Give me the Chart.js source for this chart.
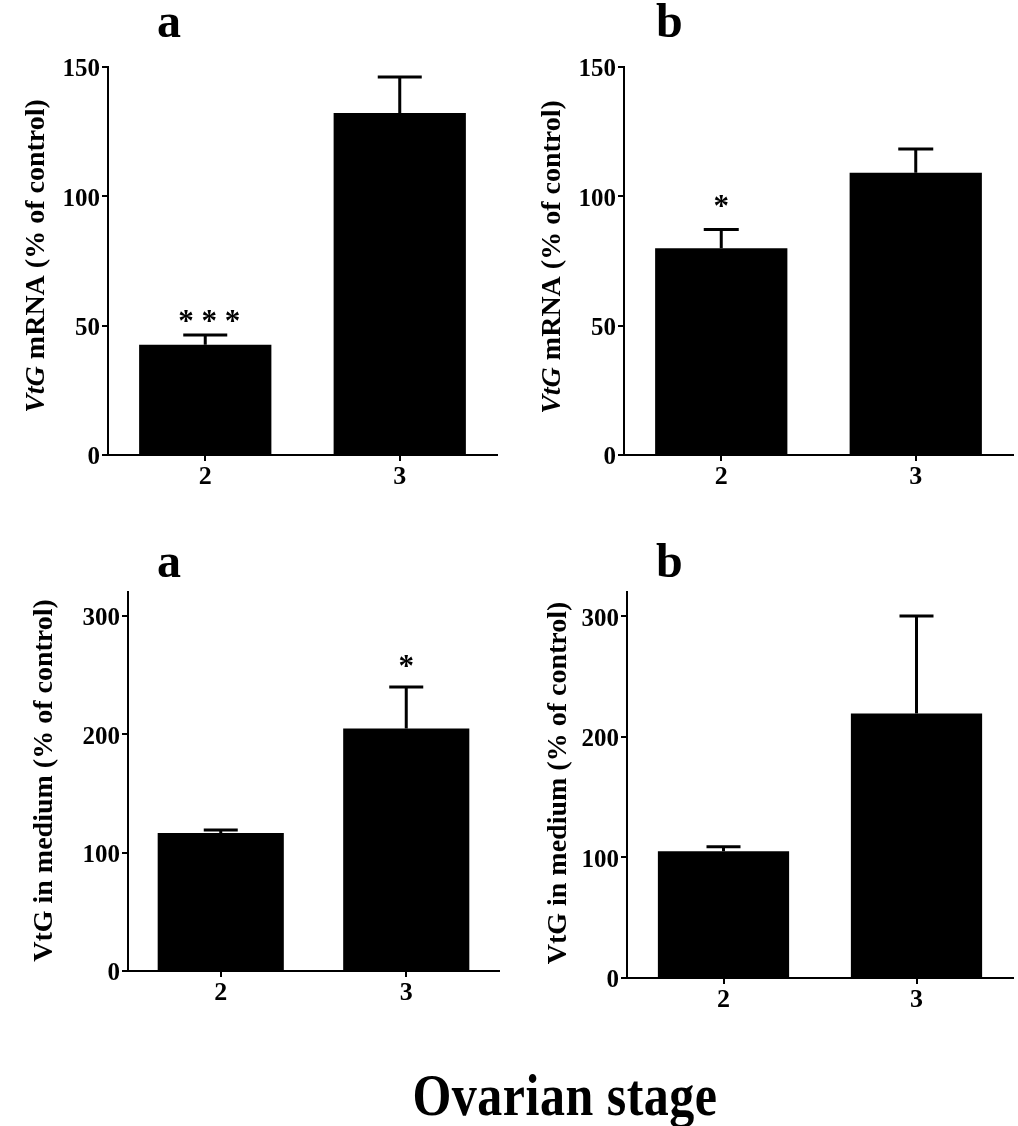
<!DOCTYPE html>
<html>
<head>
<meta charset="utf-8">
<script src="https://cdn.jsdelivr.net/npm/chart.js@4.4.1/dist/chart.umd.min.js"></script>
<style>
  body { margin: 0; background: #fff; }
  #fig { position: relative; width: 1018px; height: 1126px; overflow: hidden; background: #fff; }
  canvas { position: absolute; }
  .lbl { position: absolute; font-family: 'Liberation Serif', 'Times New Roman', serif; font-weight: bold; color: #000; white-space: nowrap; }
  .panel { font-size: 48px; line-height: 48px; }
</style>
</head>
<body>
<div id="fig">
  <canvas id="mrnaA" width="509" height="510" style="left:0;top:0"></canvas>
  <canvas id="mrnaB" width="509" height="510" style="left:509px;top:0"></canvas>
  <canvas id="mediumA" width="509" height="480" style="left:0;top:540px"></canvas>
  <canvas id="mediumB" width="509" height="480" style="left:509px;top:540px"></canvas>
  <div class="lbl panel" style="left:157px;top:-3px">a</div>
  <div class="lbl panel" style="left:656px;top:-3px">b</div>
  <div class="lbl panel" style="left:157px;top:537px">a</div>
  <div class="lbl panel" style="left:656px;top:537px">b</div>
  <div class="lbl" style="left:265px;top:1073px;width:600px;text-align:center;font-size:50px;line-height:50px;letter-spacing:0.5px;transform:scaleY(1.18);transform-origin:50% 42px">Ovarian stage</div>
</div>
<script>
// data
const stages = ["2", "3"];

const mrnaA = [42.6, 132.2];
const mrnaAErr = [3.8, 13.9];
const mrnaASig = ["* * *", ""];

const mrnaB = [79.9, 109.1];
const mrnaBErr = [7.3, 9.2];
const mrnaBSig = ["*", ""];

const mediumA = [116.5, 204.8];
const mediumAErr = [2.6, 35.0];
const mediumASig = ["", "*"];

const mediumB = [105.0, 219.2];
const mediumBErr = [3.9, 80.9];
const mediumBSig = ["", ""];

const mrnaTicks = [0, 50, 100, 150];
const mediumTicks = [0, 100, 200, 300];

const serif = "'Liberation Serif', 'Times New Roman', serif";

// error bars, significance stars and the rotated y title
const panelExtras = {
  id: "panelExtras",
  afterDatasetsDraw(chart, args, opts) {
    const ctx = chart.ctx;
    const y = chart.scales.y;
    const vals = chart.data.datasets[0].data;
    ctx.save();
    ctx.strokeStyle = "#000";
    ctx.fillStyle = "#000";
    ctx.lineWidth = 3;
    chart.getDatasetMeta(0).data.forEach((bar, i) => {
      const top = y.getPixelForValue(vals[i] + opts.errors[i]);
      ctx.beginPath();
      ctx.moveTo(bar.x, bar.y);
      ctx.lineTo(bar.x, top);
      ctx.moveTo(bar.x - opts.cap / 2, top);
      ctx.lineTo(bar.x + opts.cap / 2, top);
      ctx.stroke();
      if (opts.sig[i]) {
        ctx.font = "bold 31px " + serif;
        ctx.textAlign = "center";
        ctx.textBaseline = "alphabetic";
        ctx.fillText(opts.sig[i], bar.x + (opts.sigDx || 0), top - opts.gap);
      }
    });
    ctx.restore();
  },
  afterDraw(chart, args, opts) {
    const ctx = chart.ctx;
    const area = chart.chartArea;
    const cx = area.left - opts.titleDx;
    const cy = (area.top + area.bottom) / 2 + opts.titleDy;
    ctx.save();
    ctx.translate(cx, cy);
    ctx.rotate(-Math.PI / 2);
    ctx.fillStyle = "#000";
    ctx.textBaseline = "middle";
    ctx.textAlign = "left";
    const fonts = opts.title.map(p => (p.italic ? "italic " : "") + "bold 28px " + serif);
    let total = 0;
    const widths = opts.title.map((p, i) => {
      ctx.font = fonts[i];
      const w = ctx.measureText(p.text).width;
      total += w;
      return w;
    });
    let x = -total / 2;
    opts.title.forEach((p, i) => {
      ctx.font = fonts[i];
      ctx.fillText(p.text, x, 0);
      x += widths[i];
    });
    ctx.restore();
  }
};

function makePanel(id, values, errors, sig, tickVals, yMax, box) {
  const axisGrid = { display: true, drawOnChartArea: false, color: "#000", lineWidth: 2, tickLength: 6 };
  new Chart(document.getElementById(id), {
    type: "bar",
    data: {
      labels: stages,
      datasets: [{
        data: values,
        backgroundColor: "#000",
        borderWidth: 0,
        categoryPercentage: 1,
        barPercentage: 0.68
      }]
    },
    options: {
      responsive: false,
      animation: false,
      devicePixelRatio: 1,
      layout: { padding: { top: box.top, right: box.right, left: 0, bottom: 0 } },
      plugins: {
        legend: { display: false },
        tooltip: { enabled: false },
        panelExtras: {
          errors: errors, sig: sig, cap: box.cap, gap: box.gap, sigDx: box.sigDx,
          title: box.title, titleDx: box.titleDx, titleDy: box.titleDy
        }
      },
      scales: {
        x: {
          offset: true,
          grid: Object.assign({}, axisGrid, { offset: false }),
          border: { display: true, color: "#000", width: 2 },
          ticks: { color: "#000", padding: 1, font: { family: serif, size: 26, weight: "bold" } },
          afterFit(s) { s.height = box.xh; }
        },
        y: {
          min: 0,
          max: yMax,
          grid: axisGrid,
          border: { display: true, color: "#000", width: 2 },
          ticks: { color: "#000", padding: 2, labelOffset: 3, font: { family: serif, size: 25, weight: "bold" } },
          afterBuildTicks(s) { s.ticks = tickVals.map(v => ({ value: v })); },
          afterFit(s) { s.width = box.yw; }
        }
      }
    },
    plugins: [panelExtras]
  });
}

const mrnaTitle = [{ text: "VtG", italic: true }, { text: " mRNA (% of control)" }];
const mediumTitle = [{ text: "VtG in medium (% of control)" }];

makePanel("mrnaA", mrnaA, mrnaAErr, mrnaASig, mrnaTicks, 150,
  { top: 67, right: 12, yw: 108, xh: 55, cap: 44, gap: 4, sigDx: 4, title: mrnaTitle, titleDx: 71, titleDy: -5 });
makePanel("mrnaB", mrnaB, mrnaBErr, mrnaBSig, mrnaTicks, 150,
  { top: 67, right: 5, yw: 115, xh: 55, cap: 35, gap: 13, title: mrnaTitle, titleDx: 71, titleDy: -4 });
makePanel("mediumA", mediumA, mediumAErr, mediumASig, mediumTicks, 320,
  { top: 52, right: 10, yw: 128, xh: 49, cap: 34, gap: 11, title: mediumTitle, titleDx: 83, titleDy: -1 });
makePanel("mediumB", mediumB, mediumBErr, mediumBSig, mediumTicks, 320,
  { top: 52, right: 5, yw: 118, xh: 42, cap: 34, gap: 11, title: mediumTitle, titleDx: 68, titleDy: -2 });
</script>
</body>
</html>
